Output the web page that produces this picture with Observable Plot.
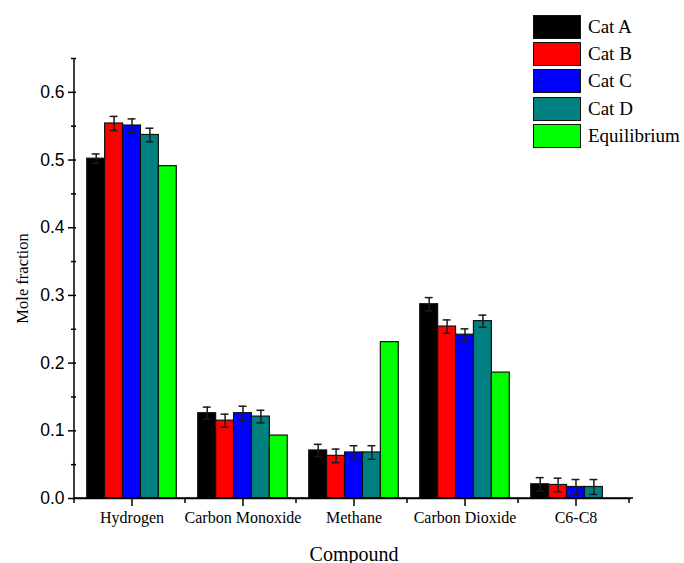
<!DOCTYPE html>
<html><head><meta charset="utf-8">
<script src="https://cdn.jsdelivr.net/npm/d3@7"></script>
<script src="https://cdn.jsdelivr.net/npm/@observablehq/plot@0.6"></script>
<style>
body{margin:0;background:#fff;}
#wrap{position:relative;width:684px;height:563px;}
#legend{position:absolute;left:533px;top:13px;font-family:"Liberation Serif",serif;font-size:19px;color:#000;}
.item{display:flex;align-items:center;height:27.3px;}
.sw{width:48px;height:24px;box-sizing:border-box;border:1.5px solid #111;margin-right:7px;}
</style></head><body><div id="wrap"><div id="legend"></div></div>
<script>
const compounds = ["Hydrogen", "Carbon Monoxide", "Methane", "Carbon Dioxide", "C6-C8"];
const series = ["Cat A", "Cat B", "Cat C", "Cat D", "Equilibrium"];
const colors = ["#000000", "#ff0000", "#0000ff", "#008080", "#00ff00"];
const catA = [0.502, 0.126, 0.071, 0.287, 0.021];
const catB = [0.554, 0.115, 0.063, 0.254, 0.020];
const catC = [0.551, 0.126, 0.068, 0.242, 0.017];
const catD = [0.537, 0.121, 0.068, 0.262, 0.017];
const equilibrium = [0.491, 0.093, 0.231, 0.186, null];
const errA = [0.007, 0.009, 0.009, 0.0098, 0.0098];
const errB = [0.0105, 0.0096, 0.010, 0.0098, 0.010];
const errC = [0.0098, 0.0103, 0.010, 0.0086, 0.011];
const errD = [0.010, 0.0093, 0.010, 0.0089, 0.011];
const yTicks = [0, 0.1, 0.2, 0.3, 0.4, 0.5, 0.6];
const yMinorTicks = [0.05, 0.15, 0.25, 0.35, 0.45, 0.55, 0.65];

const values = [catA, catB, catC, catD, equilibrium];
const errors = [errA, errB, errC, errD, null];
const rows = [];
compounds.forEach((c, i) => series.forEach((s, j) => {
  const v = values[j][i];
  if (v != null) rows.push({compound: c, series: s, value: v, err: errors[j] ? errors[j][i] : null});
}));
const errRows = rows.filter(d => d.err != null);

const stroke = "#1a1a1a";
const plot = Plot.plot({
  width: 684, height: 563,
  marginTop: 58, marginBottom: 65, marginLeft: 74, marginRight: 51,
  style: {fontFamily: "Liberation Serif", background: "#fff", color: "#000", overflow: "visible"},
  fx: {domain: compounds, padding: 0},
  x: {domain: series, paddingInner: 0, paddingOuter: 0.6, round: false, axis: null},
  y: {domain: [0, 0.65], axis: null},
  color: {domain: series, range: colors},
  marks: [
    Plot.barY(rows, {fx: "compound", x: "series", y: "value", fill: "series", stroke: "#111", strokeWidth: 1.2}),
    Plot.ruleX(errRows, {fx: "compound", x: "series", y1: d => d.value - d.err, y2: d => d.value + d.err, stroke, strokeWidth: 1.5}),
    Plot.tickY(errRows, {fx: "compound", x: "series", y: d => d.value + d.err, insetLeft: 5, insetRight: 5, stroke, strokeWidth: 1.5}),
    Plot.tickY(errRows, {fx: "compound", x: "series", y: d => d.value - d.err, insetLeft: 5, insetRight: 5, stroke, strokeWidth: 1.5}),
    Plot.ruleY([0], {stroke: "#000", strokeWidth: 1.5}),
    Plot.axisY({ticks: yTicks, tickSize: 8, tickPadding: 4, tickFormat: d3.format(".1f"), fontFamily: "Liberation Sans", fontSize: 17.5, label: null, strokeWidth: 1.5}),
    Plot.axisY({ticks: yMinorTicks, tickSize: 5, tickFormat: () => "", label: null, strokeWidth: 1.5}),
    Plot.axisFx({anchor: "bottom", tickSize: 8, tickPadding: 5, fontSize: 16, label: null, strokeWidth: 1.5}),
    Plot.text(["Mole fraction"], {fx: () => "Hydrogen", frameAnchor: "left", textAnchor: "middle", rotate: -90, dx: -54, fontSize: 16.5}),
    Plot.text(["Compound"], {fx: () => "Methane", frameAnchor: "bottom", dy: 62, fontSize: 20})
  ]
});

// axis lines and minor category ticks, from the plot's own scales
const ysc = plot.scale("y"), fxs = plot.scale("fx");
const [yb, yt] = ysc.range;
const [x0, x1] = fxs.range;
const ns = "http://www.w3.org/2000/svg";
const g = document.createElementNS(ns, "g");
g.setAttribute("stroke", "#000");
g.setAttribute("stroke-width", "1.5");
function ln(xa, ya, xb, yb2) {
  const l = document.createElementNS(ns, "line");
  l.setAttribute("x1", xa); l.setAttribute("y1", ya); l.setAttribute("x2", xb); l.setAttribute("y2", yb2);
  g.appendChild(l);
}
ln(x0, yb, x0, yt);
ln(x0, yb, x1, yb);
const step = fxs.step || (x1 - x0) / compounds.length;
for (let i = 0; i <= compounds.length; i++) ln(x0 + i * step, yb, x0 + i * step, yb + 5);
plot.appendChild(g);

document.getElementById("wrap").prepend(plot);

// legend from the color scale
const col = plot.scale("color");
const leg = document.getElementById("legend");
col.domain.forEach((s, i) => {
  const it = document.createElement("div"); it.className = "item";
  const sw = document.createElement("div"); sw.className = "sw"; sw.style.background = col.range[i];
  const t = document.createElement("span"); t.textContent = s;
  it.appendChild(sw); it.appendChild(t); leg.appendChild(it);
});
</script></body></html>
